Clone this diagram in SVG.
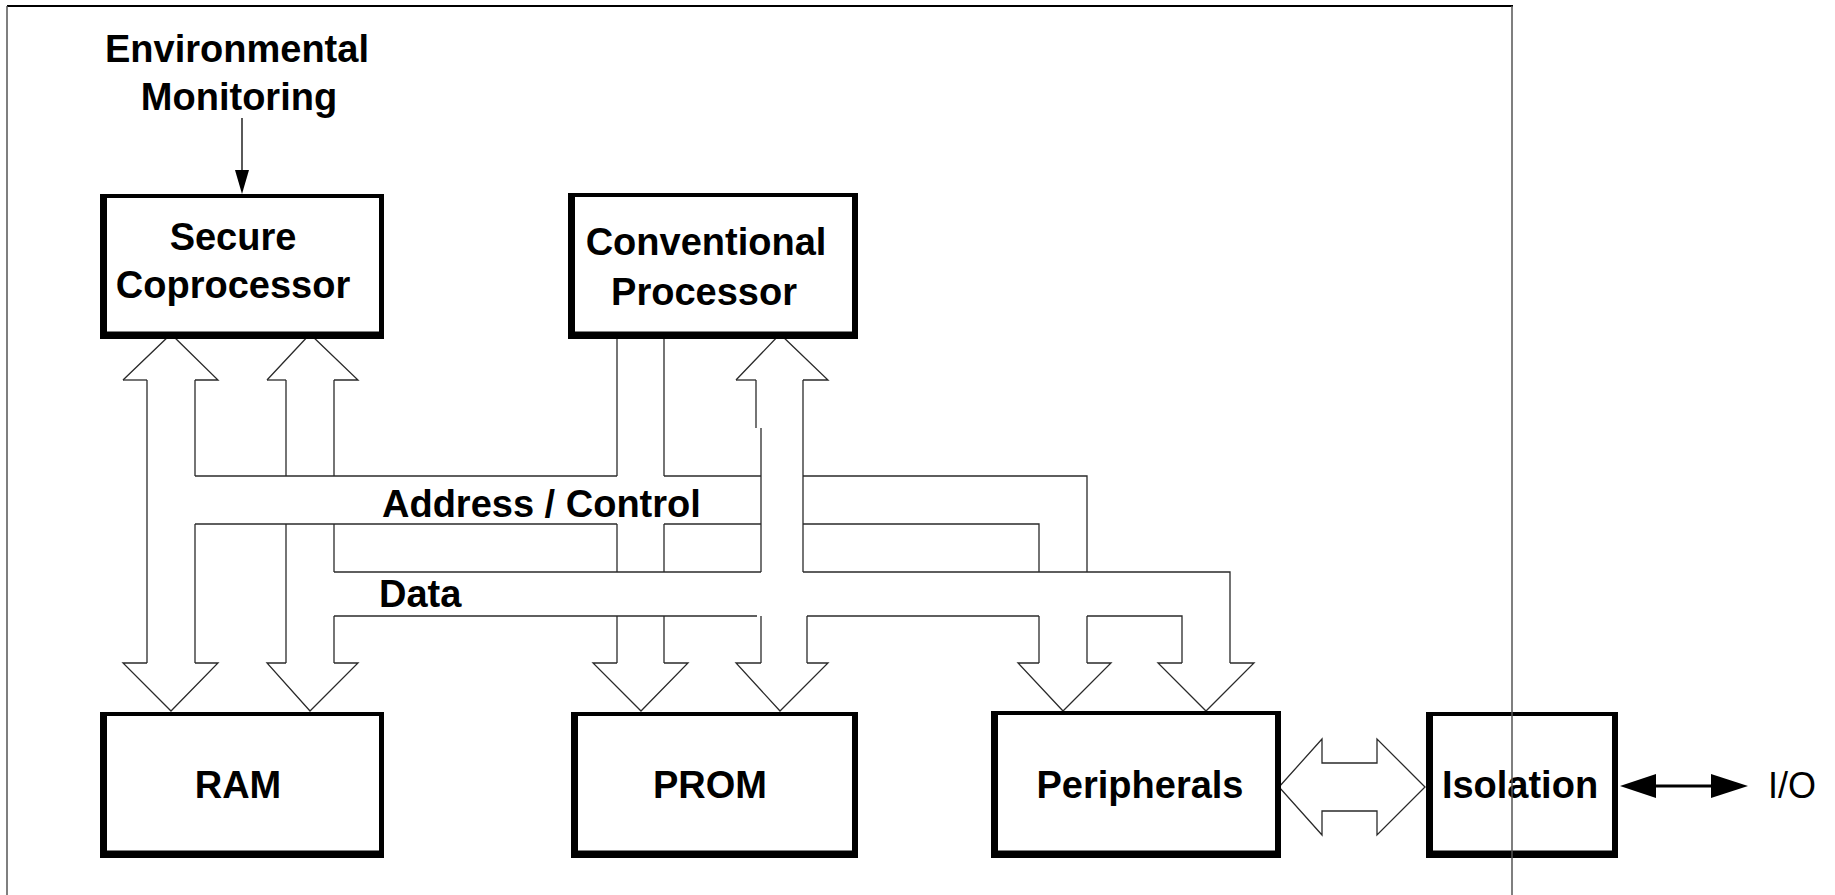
<svg xmlns="http://www.w3.org/2000/svg" width="1835" height="895" viewBox="0 0 1835 895">
<style>
.bg{fill:#ffffff}
.outer{fill:#000000}
.inner{fill:#ffffff}
.lbl{font-family:"Liberation Sans",Arial,sans-serif;font-weight:bold;font-size:38px;fill:#000000}
.io{font-family:"Liberation Sans",Arial,sans-serif;font-weight:normal;font-size:36px;fill:#000000}
.bus{stroke:#2a2a2a;stroke-width:1.3;fill:none}
.hollow{stroke:#2a2a2a;stroke-width:1.3;fill:#ffffff;stroke-linejoin:miter}
.frame{stroke:#555555;stroke-width:1.5;fill:none}
</style>
<rect class="bg" x="0" y="0" width="1835" height="895"/>

<g id="frame">
<line x1="7" y1="6" x2="1513" y2="6" stroke="#000" stroke-width="2"/>
<line class="frame" x1="7" y1="6" x2="7" y2="895"/>
</g>

<g id="connectors">
<!-- Environmental monitoring arrow -->
<line x1="242" y1="118" x2="242" y2="172" stroke="#000" stroke-width="1.3"/>
<polygon points="235,170 249,170 242,194" fill="#000"/>

<!-- Up arrowheads below Secure Coprocessor -->
<polyline class="bus" points="123,380 147,380"/>
<polyline class="bus" points="123,380 171,334 218,380 195,380"/>
<polyline class="bus" points="267,380 286,380"/>
<polyline class="bus" points="267,380 310,334 358,380 334,380"/>
<!-- Up arrowhead below Conventional Processor -->
<polyline class="bus" points="736,380 756,380"/>
<polyline class="bus" points="736,380 780,334 828,380 803,380"/>

<!-- Arrow A (Secure address) -->
<line class="bus" x1="147" y1="380" x2="147" y2="663"/>
<line class="bus" x1="195" y1="380" x2="195" y2="476"/>
<line class="bus" x1="195" y1="524" x2="195" y2="663"/>
<!-- Arrow B (Secure data) -->
<line class="bus" x1="286" y1="380" x2="286" y2="476"/>
<line class="bus" x1="286" y1="524" x2="286" y2="663"/>
<line class="bus" x1="334" y1="380" x2="334" y2="476"/>
<line class="bus" x1="334" y1="524" x2="334" y2="572"/>
<line class="bus" x1="334" y1="616" x2="334" y2="663"/>

<!-- Conventional processor address lines -->
<line class="bus" x1="617" y1="336" x2="617" y2="476"/>
<line class="bus" x1="617" y1="524" x2="617" y2="572"/>
<line class="bus" x1="617" y1="616" x2="617" y2="663"/>
<line class="bus" x1="664" y1="336" x2="664" y2="476"/>
<line class="bus" x1="664" y1="524" x2="664" y2="572"/>
<line class="bus" x1="664" y1="616" x2="664" y2="663"/>
<!-- Conventional processor data shaft -->
<polyline class="bus" points="756,380 756,428"/>
<polyline class="bus" points="761,428 761,572"/>
<line class="bus" x1="803" y1="380" x2="803" y2="572"/>
<line class="bus" x1="761" y1="616" x2="761" y2="663"/>
<line class="bus" x1="807" y1="616" x2="807" y2="663"/>

<!-- Address / Control bus -->
<line class="bus" x1="195" y1="476" x2="617" y2="476"/>
<line class="bus" x1="664" y1="476" x2="761" y2="476"/>
<polyline class="bus" points="803,476 1087,476 1087,572"/>
<line class="bus" x1="195" y1="524" x2="617" y2="524"/>
<line class="bus" x1="664" y1="524" x2="761" y2="524"/>
<polyline class="bus" points="803,524 1039,524 1039,572"/>

<!-- Data bus -->
<line class="bus" x1="334" y1="572" x2="761" y2="572"/>
<polyline class="bus" points="803,572 1230,572 1230,663"/>
<line class="bus" x1="334" y1="616" x2="757" y2="616"/>
<line class="bus" x1="807" y1="616" x2="1039" y2="616"/>
<polyline class="bus" points="1087,616 1182,616 1182,663"/>
<line class="bus" x1="1039" y1="616" x2="1039" y2="663"/>
<line class="bus" x1="1087" y1="616" x2="1087" y2="663"/>

<!-- Down arrowheads -->
<polyline class="bus" points="147,663 123,663 171,711 218,663 195,663"/>
<polyline class="bus" points="286,663 267,663 310,711 358,663 334,663"/>
<polyline class="bus" points="617,663 593,663 641,711 688,663 664,663"/>
<polyline class="bus" points="761,663 736,663 780,711 828,663 807,663"/>
<polyline class="bus" points="1039,663 1018,663 1063,711 1111,663 1087,663"/>
<polyline class="bus" points="1182,663 1158,663 1206,711 1254,663 1230,663"/>

<!-- Peripherals <-> Isolation hollow double arrow -->
<polygon class="hollow" points="1279,787 1322,739 1322,763 1377,763 1377,739 1425,787 1377,835 1377,811 1322,811 1322,835"/>

<!-- Isolation <-> I/O -->
<line x1="1650" y1="786" x2="1716" y2="786" stroke="#000" stroke-width="3"/>
<polygon points="1620,786 1656,774 1656,798" fill="#000"/>
<polygon points="1748,786 1711,774 1711,798" fill="#000"/>
</g>

<g id="label-env">
<text class="lbl" x="237" y="62" text-anchor="middle">Environmental</text>
<text class="lbl" x="239" y="110" text-anchor="middle">Monitoring</text>
</g>

<g id="node-secure">
<rect class="outer" x="100" y="194" width="284" height="145"/>
<rect class="inner" x="107" y="198" width="272" height="133.5"/>
<text class="lbl" x="233" y="250" text-anchor="middle" font-size="37.5">Secure</text>
<text class="lbl" x="233" y="297.5" text-anchor="middle" font-size="37.5">Coprocessor</text>
</g>

<g id="node-conventional">
<rect class="outer" x="568" y="193" width="290" height="146"/>
<rect class="inner" x="575" y="197" width="277" height="134.5"/>
<text class="lbl" x="706" y="255" text-anchor="middle" font-size="37.5">Conventional</text>
<text class="lbl" x="704" y="305" text-anchor="middle" font-size="37.5">Processor</text>
</g>

<g id="label-address">
<text class="lbl" x="382" y="516.5" font-size="39.5">Address / Control</text>
</g>
<g id="label-data">
<text class="lbl" x="379" y="606.5" font-size="37">Data</text>
</g>

<g id="node-ram">
<rect class="outer" x="100" y="712" width="284" height="146"/>
<rect class="inner" x="107" y="716" width="272" height="134.5"/>
<text class="lbl" x="238" y="798" text-anchor="middle">RAM</text>
</g>

<g id="node-prom">
<rect class="outer" x="571" y="712" width="287" height="146"/>
<rect class="inner" x="578" y="716" width="274" height="134.5"/>
<text class="lbl" x="710" y="798" text-anchor="middle">PROM</text>
</g>

<g id="node-peripherals">
<rect class="outer" x="991" y="711" width="290" height="147"/>
<rect class="inner" x="998" y="715" width="277" height="135.5"/>
<text class="lbl" x="1140" y="798" text-anchor="middle">Peripherals</text>
</g>

<g id="node-isolation">
<rect class="outer" x="1426" y="712" width="192" height="146"/>
<rect class="inner" x="1433" y="716" width="179" height="134.5"/>
<text class="lbl" x="1520" y="798" text-anchor="middle">Isolation</text>
</g>

<g id="label-io">
<text class="io" x="1768" y="798">I/O</text>
</g>

<g id="frame-right">
<line class="frame" x1="1512" y1="6" x2="1512" y2="895"/>
</g>
</svg>
